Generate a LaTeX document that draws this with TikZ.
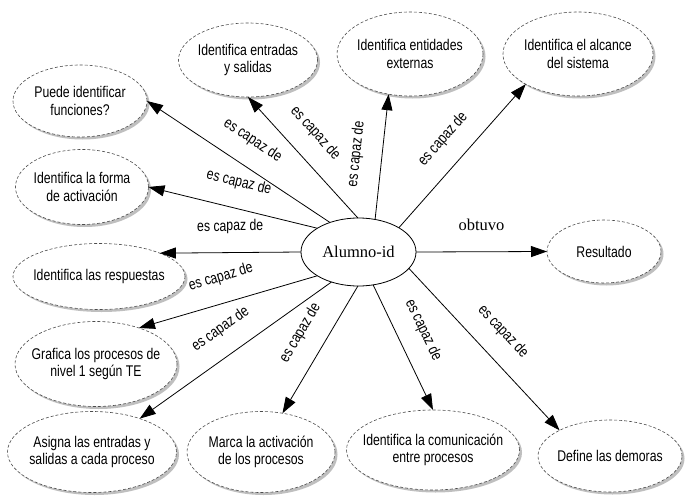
\documentclass[tikz,border=0pt]{standalone}
\usepackage{fontspec}
\setmainfont{Liberation Serif}
\newfontfamily\narrowsans[FakeStretch=0.79]{Liberation Sans}
\usetikzlibrary{shapes.geometric,arrows.meta,shadows}
\begin{document}
\begin{tikzpicture}[x=1pt,y=-1pt,
  bub/.style={ellipse, draw=black!70, dash pattern=on 3pt off 2pt, line width=0.6pt,
    fill=white, inner sep=0pt, outer sep=0pt,
    drop shadow={shadow xshift=2.5pt, shadow yshift=-2.5pt, fill=black!25, opacity=1, draw=none}},
  txt/.style={font=\narrowsans\fontsize{15.5}{17.5}\selectfont, align=center, inner sep=0pt},
  lbl/.style={font=\narrowsans\fontsize{15.5}{17.5}\selectfont, inner sep=0pt, sloped, above=18pt, midway},
  arr/.style={line width=0.8pt, -{Triangle[length=16pt,width=11pt]}},
]
\useasboundingbox[fill=white] (0,0) rectangle (689,498);

\node[draw, ellipse, line width=0.8pt, minimum width=115pt, minimum height=68pt,
  inner sep=0pt, outer sep=0pt, font=\fontsize{16.5}{19}\selectfont] (c) at (358.5,252) {Alumno-id};

\node[bub, minimum width=134pt, minimum height=72pt, label={[txt,name=put]center:{Puede identificar\\funciones?}}] (pu) at (80,101) {};
\node[bub, minimum width=139pt, minimum height=74pt, label={[txt,name=ent1]center:{Identifica entradas\\y salidas}}] (en) at (248,60) {};
\node[bub, minimum width=133pt, minimum height=75pt, label={[txt,name=fot]center:{Identifica la forma\\de activación}}] (fo) at (82,187) {};
\node[bub, minimum width=146pt, minimum height=84pt, label={[txt,name=entt]center:{Identifica entidades\\externas}}] (ent) at (410,54) {};
\node[bub, minimum width=150pt, minimum height=84pt, label={[txt,name=alt]center:{Identifica el alcance\\del sistema}}] (al) at (578,54) {};
\node[bub, minimum width=114pt, minimum height=63pt, label={[txt,name=ret]center:{Resultado}}] (re) at (604,251.5) {};
\node[bub, minimum width=172pt, minimum height=66pt, label={[txt,name=rst]center:{Identifica las respuestas}}] (rs) at (99,276.5) {};
\node[bub, minimum width=162pt, minimum height=85pt, label={[txt,name=grt]center:{Grafica los procesos de\\nivel 1 según TE}}] (gr) at (96,364) {};
\node[bub, minimum width=169pt, minimum height=81pt, label={[txt,name=ast]center:{Asigna las entradas y\\salidas a cada proceso}}] (as) at (92,452) {};
\node[bub, minimum width=148pt, minimum height=81pt, label={[txt,name=mat]center:{Marca la activación\\de los procesos}}] (ma) at (261,452) {};
\node[bub, minimum width=173pt, minimum height=80pt, label={[txt,name=cot]center:{Identifica la comunicación\\entre procesos}}] (co) at (433,450) {};
\node[bub, minimum width=144pt, minimum height=72pt, label={[txt,name=det]center:{Define las demoras}}] (de) at (610,456) {};

\draw[arr] (c.134) -- node[lbl] (l1) {es capaz de} (pu.east);
\draw[arr] (c.91) -- node[lbl, pos=0.56] (l2) {es capaz de} (en.south);
\draw[arr] (c.63) -- node[lbl] (l3) {es capaz de} (ent.-118);
\draw[arr] (c.31) -- node[lbl] (l4) {es capaz de} (al.-150);
\draw[arr] (c.east) -- node[midway, above=21pt, inner sep=0pt, font=\fontsize{16.5}{19}\selectfont] (l5) {obtuvo} (re.west);
\draw[arr] (c.-18) -- node[lbl] (l6) {es capaz de} (de.153);
\draw[arr] (c.-66) -- node[lbl, pos=0.45] (l7) {es capaz de} (co.north);
\draw[arr] (c.-91) -- node[lbl, pos=0.47] (l8) {es capaz de} (ma.61);
\draw[arr] (c.-132) -- node[lbl] (l9) {es capaz de} (as.35);
\draw[arr] (c.-150) -- node[lbl] (l10) {es capaz de} (gr.40);
\draw[arr] (c.west) -- node[lbl] (l11) {es capaz de} (rs.21);
\draw[arr] (c.150) -- node[lbl] (l12) {es capaz de} (fo.east);
\end{tikzpicture}
\end{document}
